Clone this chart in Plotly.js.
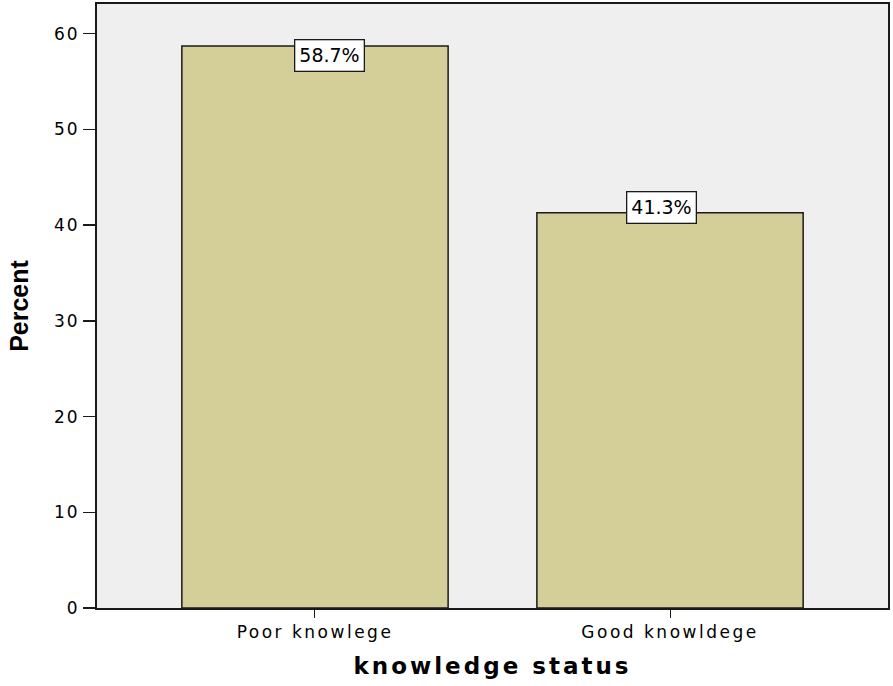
<!DOCTYPE html>
<html>
<head>
<meta charset="utf-8">
<script src="https://cdn.plot.ly/plotly-3.0.1.min.js"></script>
<style>
html,body{margin:0;padding:0;background:#fff;}
#chart{width:893px;height:686px;}
#chart .xtick text{letter-spacing:2.5px;}
#chart .ytick text{letter-spacing:2px;}
#chart .g-xtitle text{letter-spacing:3px;}
</style>
</head>
<body>
<div id="chart"></div>
<script>
const categories = ["Poor knowlege", "Good knowldege"];
const percents = [58.7, 41.3];
const labels = ["58.7%", "41.3%"];
const yTicks = [0, 10, 20, 30, 40, 50, 60];

const labelShiftX = [15, -9];
const labelShiftY = [-9, 5];

const trace = {
  type: "bar",
  x: categories,
  y: percents,
  width: 0.75,
  marker: { color: "#d4cf98", line: { color: "#1a1a1a", width: 1.5 } },
  hoverinfo: "none"
};

const annotations = categories.map((c, i) => ({
  x: c, y: percents[i], xref: "x", yref: "y",
  text: labels[i], showarrow: false,
  xanchor: "center", yanchor: "middle",
  xshift: labelShiftX[i], yshift: labelShiftY[i],
  bgcolor: "#ffffff", bordercolor: "#1a1a1a", borderwidth: 1.3, borderpad: 4,
  font: { family: "DejaVu Sans", size: 19, color: "#000" }
}));

const layout = {
  width: 893, height: 686,
  margin: { l: 97, r: 5, t: 4, b: 78 },
  paper_bgcolor: "#ffffff",
  plot_bgcolor: "#efefef",
  showlegend: false,
  xaxis: {
    range: [-0.614, 1.614],
    showgrid: false, zeroline: false,
    showline: true, linecolor: "#1a1a1a", linewidth: 2, mirror: true,
    ticks: "outside", ticklen: 8, tickcolor: "#1a1a1a", tickwidth: 1,
    tickfont: { family: "DejaVu Sans", size: 17, color: "#000" },
    title: { text: "knowledge status", standoff: 16,
      font: { family: "DejaVu Sans", size: 23, color: "#000", weight: "bold" } }
  },
  yaxis: {
    range: [0, 63.1],
    tickvals: yTicks,
    showgrid: false, zeroline: false,
    showline: true, linecolor: "#1a1a1a", linewidth: 2, mirror: true,
    ticks: "outside", ticklen: 12, tickcolor: "#1a1a1a", tickwidth: 1.5,
    tickfont: { family: "DejaVu Sans", size: 17, color: "#000" },
    title: { text: "Percent", standoff: 22,
      font: { family: "Liberation Sans Narrow, Liberation Sans, Arial", size: 25, color: "#000", weight: "bold" } }
  },
  annotations: annotations
};

Plotly.newPlot("chart", [trace], layout, { displayModeBar: false, staticPlot: true });
</script>
</body>
</html>
